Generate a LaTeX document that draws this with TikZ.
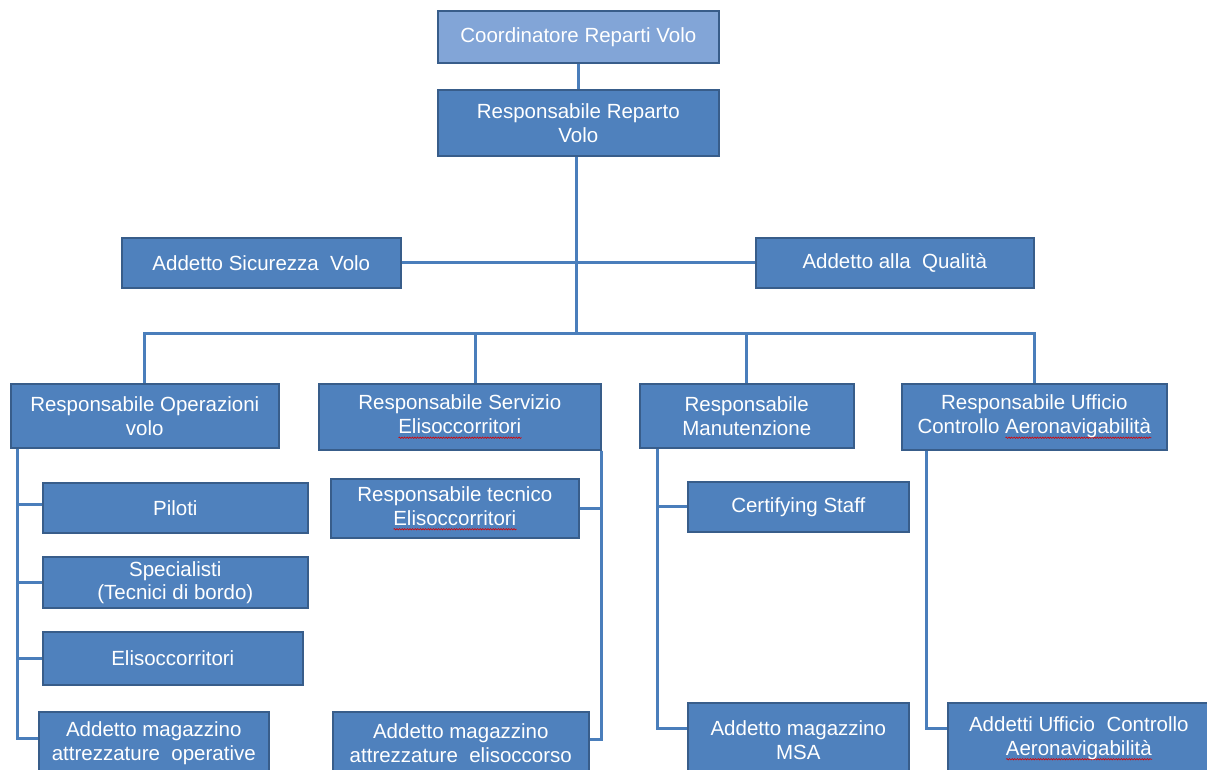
\documentclass[tikz,border=0pt]{standalone}
\usepackage{fontspec}
\setmainfont{Liberation Sans}
\usetikzlibrary{calc,decorations.pathmorphing}
\definecolor{boxfill}{HTML}{4F81BD}
\definecolor{boxborder}{HTML}{385D8A}
\definecolor{topfill}{HTML}{82A5D7}
\definecolor{linecol}{HTML}{4A7EBB}
\newsavebox\sqbox
\newlength\sqlen
\newcommand\squig[1]{\sbox\sqbox{#1}\setlength\sqlen{\wd\sqbox}\leavevmode\rlap{\raisebox{-4pt}{\tikz[baseline=0pt]\draw[red!85!black,line width=0.6pt,decorate,decoration={snake,amplitude=0.7pt,segment length=2.6pt}] (0pt,0pt) -- (\sqlen,0pt);}}\usebox\sqbox}
\tikzset{
  box/.style={draw=boxborder, fill=boxfill, line width=1.6pt, text=white, align=center,
    font=\fontsize{20.5}{24}\selectfont, inner sep=0pt, anchor=north west},
  topbox/.style={box, fill=topfill},
  conn/.style={draw=linecol, line width=3pt}
}
\begin{document}
\begin{tikzpicture}[x=1pt,y=-1pt]
\useasboundingbox (0,0) rectangle (1207,769);
\fill[white] (0,0) rectangle (1207,769);

\node[topbox, minimum width=281, minimum height=52] (coord) at (437,10) {Coordinatore Reparti Volo};
\node[box, minimum width=281, minimum height=66] (rrv) at (437,89) {Responsabile Reparto\\Volo};
\node[box, minimum width=279, minimum height=50] (sic) at (121,237) {Addetto Sicurezza\ \ Volo};
\node[box, minimum width=278, minimum height=50] (qual) at (755,237) {Addetto alla\ \ Qualità};

\node[box, minimum width=268, minimum height=64] (ops) at (10,383) {Responsabile Operazioni\\volo};
\node[box, minimum width=282, minimum height=66] (serv) at (318,383) {Responsabile Servizio\\\squig{Elisoccorritori}};
\node[box, minimum width=214, minimum height=64] (man) at (639,383) {Responsabile\\Manutenzione};
\node[box, minimum width=265, minimum height=66] (uff) at (901,383) {Responsabile Ufficio\\Controllo \squig{Aeronavigabilità}};

\node[box, minimum width=265, minimum height=50] (pil) at (42,482) {Piloti};
\node[box, minimum width=265, minimum height=51, font=\fontsize{20.5}{23}\selectfont] (spec) at (42,556) {Specialisti\\(Tecnici di bordo)};
\node[box, minimum width=260, minimum height=53] (elis) at (42,631) {Elisoccorritori};
\node[box, minimum width=230, minimum height=62] (mag1) at (38,711) {Addetto magazzino\\attrezzature\ \ operative};

\node[box, minimum width=248, minimum height=59] (tec) at (330,478) {Responsabile tecnico\\\squig{Elisoccorritori}};
\node[box, minimum width=256, minimum height=62] (mag2) at (332,711) {Addetto magazzino\\attrezzature\ \ elisoccorso};

\node[box, minimum width=221, minimum height=50] (cert) at (687,481) {Certifying Staff};
\node[box, minimum width=221, minimum height=74] (msa) at (687,702) {Addetto magazzino\\MSA};

\node[box, minimum width=262, minimum height=71] (add) at (947,702) {Addetti Ufficio\ \ Controllo\\\squig{Aeronavigabilità}};

% connectors
\draw[conn] (coord.south) -- (rrv.north);
\draw[conn] ($(rrv.south)+(-2,0)$) -- ++(0,178) coordinate (bus);
\draw[conn] (sic.east) -- (qual.west);
\draw[conn] (ops.north) -- ++(0,-50) -| (uff.north);
\draw[conn] ($(serv.north)+(16,0)$) -- ++(0,-50);
\draw[conn] (man.north) -- ++(0,-50);

\coordinate (opsx) at ($(ops.south west)+(7,0)$);
\draw[conn] (opsx) |- ($(pil.west)+(0,-3)$);
\draw[conn] (opsx) |- (spec.west);
\draw[conn] (opsx) |- (elis.west);
\draw[conn] (opsx) |- ($(mag1.north west)+(0,27)$);

\coordinate (servx) at (serv.south east);
\draw[conn] (servx) |- (tec.east);
\draw[conn] (servx) |- ($(mag2.north east)+(0,28)$);

\coordinate (manx) at ($(man.south west)+(18,0)$);
\draw[conn] (manx) |- (cert.west);
\draw[conn] (manx) |- ($(msa.north west)+(0,26)$);

\coordinate (uffx) at ($(uff.south west)+(25,0)$);
\draw[conn] (uffx) |- ($(add.north west)+(0,26)$);
\end{tikzpicture}
\end{document}
